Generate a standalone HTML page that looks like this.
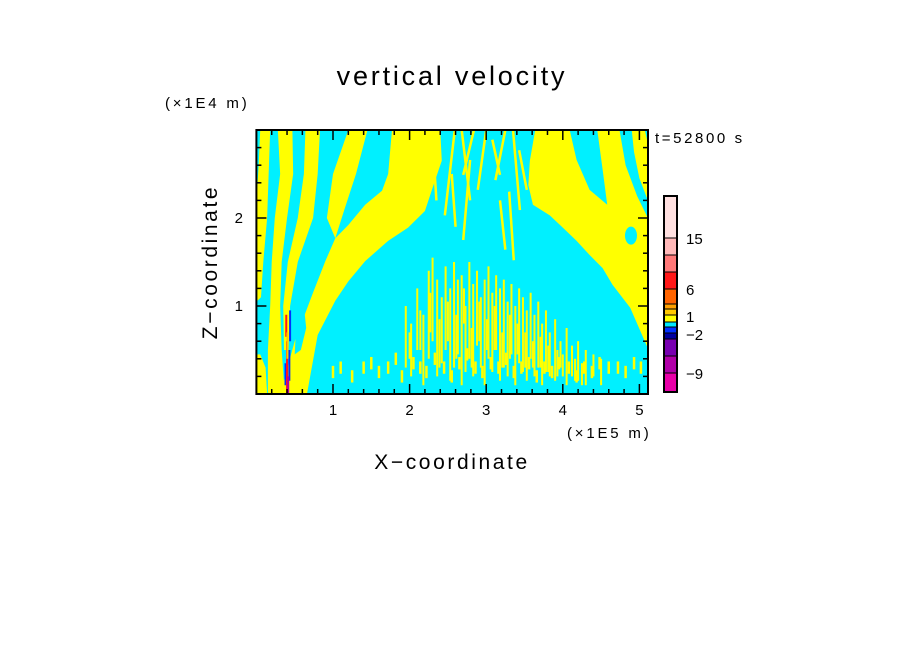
<!DOCTYPE html>
<html><head><meta charset="utf-8">
<style>
html,body{margin:0;padding:0;background:#fff;}
svg{display:block;font-family:"Liberation Sans",sans-serif;}
</style></head>
<body>
<svg id="chart" width="904" height="654" viewBox="0 0 904 654" xmlns="http://www.w3.org/2000/svg">
<defs><clipPath id="plotclip"><rect x="256.4" y="130" width="391.6" height="264"/></clipPath></defs>
<text x="452" y="85" font-size="27" letter-spacing="2.8" text-anchor="middle">vertical velocity</text>
<text x="165" y="108" font-size="15" letter-spacing="2.8">(×1E4 m)</text>
<text x="567" y="438" font-size="15" letter-spacing="2.8">(×1E5 m)</text>
<text x="655" y="143" font-size="15" letter-spacing="2.6">t=52800 s</text>
<text x="452" y="469" font-size="21" letter-spacing="2.6" text-anchor="middle">X−coordinate</text>
<text transform="translate(217,262) rotate(-90)" font-size="21" letter-spacing="2.6" text-anchor="middle">Z−coordinate</text>
<g id="field" clip-path="url(#plotclip)"></g>
<g id="axes"></g>
<g id="cbar"></g>
</svg>
<script>
const xTicksMajor = [1,2,3,4,5];
const zTicksMajor = [1,2];
const cbarLabels = ["15","6","1","−2","−9"];
const cbarLabelVals = [15,6,1,-2,-9];
const cbarLevels = [-12,-9,-6,-3,-2,-1,0,1,2,3,6,9,12,15,20];
const cbarColors = ["#e800a8","#b000a8","#7800b0","#0000a0","#0030ff","#00e8ff","#ffff00","#ffc800","#ffa000","#ff6400","#ff1818","#ff7878","#ffb8b8","#ffe0e0"];
const mainBand = [[0.31,0],[0.50,0.60],[0.73,1.13],[0.90,1.51],[1.03,1.77],[1.20,1.92],[1.42,2.15],[1.64,2.31],[1.72,2.5],[1.77,3.0],[2.40,3.0],[2.42,2.65],[2.33,2.42],[2.20,2.08],[1.98,1.89],[1.72,1.74],[1.42,1.51],[1.20,1.28],[1.03,1.06],[0.80,0.67],[0.66,0]];
const stripeL1 = [[1.20,3],[1.45,3],[1.30,2.5],[1.15,2.1],[1.03,1.77],[0.92,2.0],[1.0,2.5]];
const stripeL2 = [[0.64,3],[0.83,3],[0.80,2.5],[0.74,2],[0.54,1.5],[0.44,1],[0.42,0.5],[0.36,0.5],[0.35,1],[0.41,1.5],[0.54,2],[0.62,2.5]];
const stripeL3 = [[0.28,3],[0.47,3],[0.48,2.5],[0.40,2],[0.33,1.5],[0.31,1],[0.33,0.5],[0.37,0],[0.15,0],[0.15,0.5],[0.18,1],[0.20,1.5],[0.24,2],[0.31,2.5]];
const stripeL4 = [[0.05,3],[0.18,3],[0.14,2],[0.09,1.5],[0.06,1.1],[0,1.05],[0,2.2],[0.03,2.6]];
const stripeL5 = [[0,0],[0.14,0],[0.12,0.3],[0.05,0.45],[0,0.45]];
const rightBand = [[3.64,3.0],[3.57,2.65],[3.55,2.375],[3.61,2.15],[3.83,2.03],[4.00,1.89],[4.18,1.74],[4.35,1.58],[4.52,1.43],[4.65,1.24],[4.88,0.98],[5.07,0.60],[5.11,0.52],[5.11,2.0],[4.97,2.25],[4.82,2.6],[4.74,3.0]];
const stripeR3 = [[4.90,3],[5.07,3],[5.11,2.85],[5.11,2.2],[5.0,2.45],[4.93,2.75]];
const cyanWedgeR = [[4.09,3],[4.45,3],[4.52,2.55],[4.58,2.15],[4.35,2.32],[4.18,2.66]];
const cyanWedgeL = [[0.50,0.45],[0.58,0.5],[0.65,0.75],[0.62,1.0],[0.52,0.8]];
const sX0 = [2.59,2.68,2.84,3.0,3.08,3.25,3.35,3.43,2.79,3.18,2.55,3.30,2.20,2.30];
const sZ0 = [3.0,3.0,3.0,3.0,2.89,3.0,3.0,2.77,2.66,2.2,2.5,2.3,3.0,2.9];
const sX1 = [2.46,2.79,2.70,2.89,3.18,3.12,3.44,3.53,2.70,3.25,2.60,3.36,2.27,2.35];
const sZ1 = [2.03,2.2,2.49,2.32,2.49,2.43,2.09,2.32,1.75,1.64,1.9,1.52,2.4,2.2];
const vX = [1.95,2.02,2.1,2.18,2.25,2.3,2.36,2.42,2.47,2.53,2.58,2.63,2.68,2.73,2.78,2.83,2.88,2.93,2.98,3.03,3.08,3.13,3.18,3.23,3.28,3.33,3.38,3.43,3.48,3.53,3.58,3.63,3.68,3.73,3.78,3.83,3.9,3.97,4.05,4.12,4.2,4.3,4.4,4.5];
const vTop = [1.0,0.8,1.2,0.9,1.4,1.55,1.3,1.1,1.45,1.2,1.5,1.3,1.35,1.0,1.5,1.25,1.4,1.1,1.3,1.45,1.15,1.35,1.2,1.3,1.05,1.25,1.0,1.2,1.1,0.95,1.15,0.9,1.05,0.8,0.95,0.7,0.85,0.6,0.75,0.55,0.6,0.5,0.45,0.4];
const vBot = [0.3,0.2,0.5,0.1,0.4,0.6,0.2,0.35,0.5,0.15,0.3,0.45,0.1,0.25,0.4,0.2,0.55,0.3,0.1,0.4,0.25,0.5,0.15,0.3,0.2,0.45,0.1,0.35,0.25,0.15,0.4,0.2,0.3,0.1,0.25,0.2,0.15,0.3,0.1,0.2,0.15,0.1,0.2,0.1];
const v2X = [2.0,2.14,2.27,2.39,2.5,2.61,2.71,2.81,2.91,3.01,3.11,3.21,3.31,3.41,3.51,3.61,3.71,3.81,3.93,4.0,4.16,4.25];
const v2Top = [0.7,0.95,1.15,0.85,1.05,0.9,1.2,0.75,1.05,0.85,1.0,0.7,0.9,0.8,0.7,0.6,0.65,0.55,0.5,0.45,0.4,0.35];
const v2Bot = [0.4,0.5,0.7,0.3,0.6,0.4,0.8,0.3,0.6,0.5,0.5,0.3,0.4,0.45,0.3,0.3,0.3,0.25,0.2,0.2,0.15,0.1];
const dX = [1.0,1.1,1.25,1.4,1.5,1.6,1.72,1.82,1.9,2.05,2.14,2.22,2.33,2.45,2.55,2.65,2.75,2.86,2.95,3.06,3.16,3.26,3.36,3.46,3.56,3.66,3.76,3.86,3.95,4.08,4.18,4.28,4.38,4.48,4.6,4.72,4.82,4.93,5.02];
const dZ = [0.25,0.3,0.2,0.3,0.35,0.25,0.3,0.4,0.2,0.35,0.3,0.25,0.4,0.3,0.2,0.35,0.45,0.3,0.25,0.35,0.3,0.4,0.25,0.3,0.35,0.2,0.3,0.25,0.35,0.3,0.2,0.3,0.25,0.35,0.3,0.3,0.25,0.35,0.3];
const vortX = [0.38,0.43,0.40,0.44,0.39,0.405,0.415];
const vortZ0 = [0.1,0.15,0.0,0.6,0.65,0.4,0.0];
const vortZ1 = [0.35,0.5,0.6,0.95,0.9,0.7,0.2];
const vortC = ["#0030ff","#0030ff","#ff1818","#0030ff","#ff1818","#ffc800","#b000a8"];

const NS="http://www.w3.org/2000/svg";
const X = v => 256.4 + 76.6*v;
const Z = v => 394 - 88*v;
function mk(tag, attrs, parent){const e=document.createElementNS(NS,tag);for(const k in attrs)e.setAttribute(k,attrs[k]);parent.appendChild(e);return e;}
const field=document.getElementById('field');
const YEL="#ffff00", CYN="#00f0ff";
let bg=mk('rect',{x:256.4,y:130,width:391.6,height:264,fill:CYN},field);


function poly(pts,color,name){
  const p=mk('polygon',{points:pts.map(q=>X(q[0])+','+Z(q[1])).join(' '),fill:color},field);
  
  
}
poly(mainBand,YEL,'updraft-main-band');
poly(stripeL1,YEL,'updraft-stripe-l1');
poly(stripeL2,YEL,'updraft-stripe-l2');
poly(stripeL3,YEL,'updraft-stripe-l3');
poly(stripeL4,YEL,'updraft-stripe-l4');
poly(stripeL5,YEL,'updraft-stripe-l5');
poly(rightBand,YEL,'updraft-right-band');
poly(stripeR3,YEL,'updraft-stripe-r3');
poly(cyanWedgeR,CYN,'downdraft-wedge-right');
poly(cyanWedgeL,CYN,'downdraft-wedge-left');
let ov=mk('ellipse',{cx:X(4.89),cy:Z(1.8),rx:6,ry:9,fill:CYN},field);


for(let i=0;i<sX0.length;i++){
  const l=mk('line',{x1:X(sX0[i]),y1:Z(sZ0[i]),x2:X(sX1[i]),y2:Z(sZ1[i]),stroke:YEL,'stroke-width':2.5},field);
  
  
}
for(let i=0;i<vX.length;i++){
  const l=mk('line',{x1:X(vX[i]),y1:Z(vTop[i]),x2:X(vX[i]),y2:Z(vBot[i]),stroke:YEL,'stroke-width':2},field);
  
  
}
for(let i=0;i<v2X.length;i++){
  const l=mk('line',{x1:X(v2X[i]),y1:Z(v2Top[i]),x2:X(v2X[i]),y2:Z(v2Bot[i]),stroke:YEL,'stroke-width':2},field);
  
  
}
for(let i=0;i<dX.length;i++){
  const l=mk('line',{x1:X(dX[i]),y1:Z(dZ[i]+0.07),x2:X(dX[i]),y2:Z(dZ[i]-0.07),stroke:YEL,'stroke-width':2.5},field);
  
  
}
for(let i=0;i<vortX.length;i++){
  const l=mk('line',{x1:X(vortX[i]),y1:Z(vortZ0[i]),x2:X(vortX[i]),y2:Z(vortZ1[i]),stroke:vortC[i],'stroke-width':2},field);
  
  
}
const axes=document.getElementById('axes');
const xmax=(648-256.4)/76.6, zmax=3.0;
for(let k=1;k*0.2<xmax;k++){
  const v=k*0.2, major=(k%5===0), L=major?10:5;
  mk('line',{x1:X(v),y1:394,x2:X(v),y2:394-L,stroke:'#000','stroke-width':1.5},axes);
  mk('line',{x1:X(v),y1:130,x2:X(v),y2:130+L,stroke:'#000','stroke-width':1.5},axes);
}
for(let k=1;k*0.2<zmax-0.01;k++){
  const v=k*0.2, major=(k%5===0), L=major?10:5;
  mk('line',{x1:256.4,y1:Z(v),x2:256.4+L,y2:Z(v),stroke:'#000','stroke-width':1.5},axes);
  mk('line',{x1:648,y1:Z(v),x2:648-L,y2:Z(v),stroke:'#000','stroke-width':1.5},axes);
}
let fr=mk('rect',{x:256.4,y:130,width:391.6,height:264,fill:'none',stroke:'#000','stroke-width':2},axes);


xTicksMajor.forEach(v=>{
  const t=mk('text',{x:X(v),y:415,'font-size':15,'text-anchor':'middle'},axes);t.textContent=String(v);
  
  
});
zTicksMajor.forEach(v=>{
  const t=mk('text',{x:243,y:Z(v)+5,'font-size':15,'text-anchor':'end'},axes);t.textContent=String(v);
  
  
});
const cb=document.getElementById('cbar');
const cbY=[392,373,356,339,333,327,322,315,309,304,289,272,255,238,196];
const CY = v => { for(let i=0;i<cbarLevels.length-1;i++){ if(v<=cbarLevels[i+1]){const f=(v-cbarLevels[i])/(cbarLevels[i+1]-cbarLevels[i]);return cbY[i]+(cbY[i+1]-cbY[i])*f;} } return cbY[cbY.length-1]; };
for(let i=0;i<cbarColors.length;i++){
  const y1=CY(cbarLevels[i]), y2=CY(cbarLevels[i+1]);
  const r=mk('rect',{x:664,y:y2,width:13,height:y1-y2,fill:cbarColors[i],stroke:'#000','stroke-width':1},cb);
  
  
}
mk('rect',{x:664,y:196,width:13,height:196,fill:'none',stroke:'#000','stroke-width':2},cb);
cbarLabels.forEach((s,i)=>{
  let y=CY(cbarLabelVals[i]);
  if(s==="1") y=316; if(s==="−2") y=334;
  const t=mk('text',{x:686,y:y+6,'font-size':15},cb);t.textContent=s;
  
  
});
</script>
</body></html>
